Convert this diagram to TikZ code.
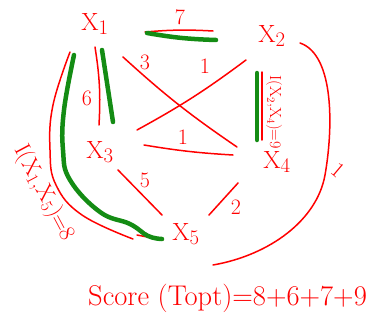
\documentclass[tikz,border=0pt]{standalone}
\definecolor{pen}{RGB}{20,140,20}
\begin{document}
\begin{tikzpicture}[x=1pt,y=-1pt,line cap=round,line join=round,
	ed/.style={red,line width=1.5pt},pick/.style={pen,line width=4.5pt},
	wt/.style={red,inner sep=0pt,font=\fontsize{22}{22}\selectfont},
	var/.style={red,inner sep=0pt,font=\fontsize{30}{30}\selectfont}]
		\useasboundingbox (0,0) rectangle (366,329);
		\node[var] (x1) at (95,24) {$\mathrm{X}_1$};\node[var] (x2) at (272,36) {$\mathrm{X}_2$};\node[var] (x3) at (100,152) {$\mathrm{X}_3$};
		\node[var] (x4) at (277,162) {$\mathrm{X}_4$};\node[var] (x5) at (186,234) {$\mathrm{X}_5$};
		% edges with their weights
		\coordinate (a12) at (145,32);\coordinate (b12) at (213,31);\draw[ed] (a12) to[bend left=4] (b12);\node[wt] (w12) at (180,17) {7};
		\coordinate (a13) at (95,47);\coordinate (b13) at (99,125);\draw[ed] (a13) to[bend left=6] (b13);\node[wt] (w13) at (87,98) {6};
		\coordinate (a14) at (123,57);\coordinate (b14) at (237,147);\draw[ed] (a14) to[bend right=4] (b14);\node[wt] (w14) at (145,62) {3};
		\coordinate (a23) at (246,60);\coordinate (b23) at (137,130);\draw[ed] (a23) to[bend left=4] (b23);\node[wt] (w23) at (205,66) {1};
		\coordinate (a34) at (144,145);\coordinate (b34) at (233,155);\draw[ed] (a34) to[bend right=3] (b34);\node[wt] (w34) at (183,137) {1};
		\coordinate (a35) at (118,170);\coordinate (b35) at (162,215);\draw[ed] (a35) -- (b35);\node[wt] (w35) at (145,180) {5};
		\coordinate (a45) at (238,183);\coordinate (b45) at (209,215);\draw[ed] (a45) -- (b45);\node[wt] (w45) at (236,207) {2};
		\coordinate (a24) at (262,72);\coordinate (b24) at (262,140);\draw[ed] (a24) -- (b24);
		\node[red,inner sep=0pt,font=\fontsize{16}{16}\selectfont,rotate=-90] (i24) at (274,112) {I(X$_2$,X$_4$)=9};
		\coordinate (a25) at (300,43);\coordinate (b25) at (213,265);
		\draw[ed] (a25) .. controls (335,55) and (333,130) .. (325,175) .. controls (317,220) and (270,255) .. (b25);
		\node[wt,rotate=-40] (w25) at (338,170) {1};
		\draw[ed] plot[smooth,tension=0.7] coordinates {(70,52) (53,105) (50,150) (56,185) (82,215) (133,239)};\draw[ed] (137,235) -- (163,240);
		\node[wt,rotate=-62,font=\fontsize{23}{23}\selectfont] (i15) at (44,193) {I(X$_1$,X$_5$)=8};
		% chosen edges
		\coordinate (g12) at (147,33);\coordinate (h12) at (216,40);\draw[pick] (g12) to[bend right=4] (h12);
		\coordinate (g13) at (102,50);\coordinate (h13) at (113,122);\draw[pick] (g13) -- (h13);
		\coordinate (g24) at (257,73);\coordinate (h24) at (257,140);\draw[pick] (g24) -- (h24);
		\draw[pick] plot[smooth,tension=0.7] coordinates {(74,55) (64,110) (63,150) (70,180) (100,212) (130,224) (148,236) (162,239)};
		\node[var,anchor=west,font=\fontsize{28.5}{29}\selectfont] (score) at (88,298) {Score (Topt)=8+6+7+9};
	\end{tikzpicture}
\end{document}
